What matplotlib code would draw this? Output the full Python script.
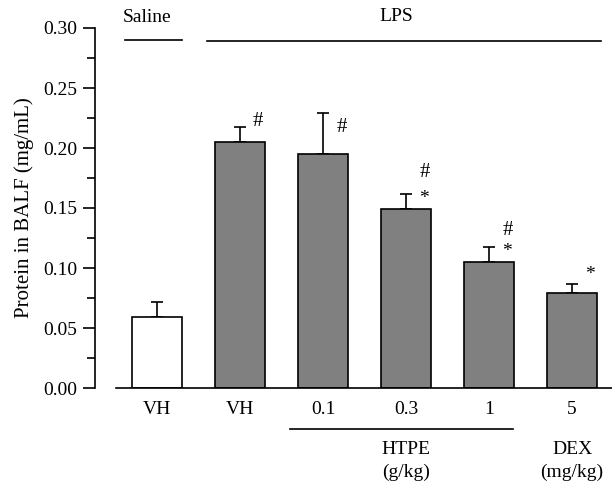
import matplotlib.pyplot as plt
import numpy as np

plt.rcParams['font.family'] = ['Liberation Serif', 'DejaVu Serif']

# bar data
groups = ["VH", "VH", "0.1", "0.3", "1", "5"]
protein = [0.059, 0.205, 0.195, 0.149, 0.105, 0.079]
sem = [0.013, 0.0125, 0.034, 0.0125, 0.0125, 0.0075]
colors = ["white", "#808080", "#808080", "#808080", "#808080", "#808080"]

# significance marks: (bar index, symbol, height)
marks = [(1, "#", 0.2225), (2, "#", 0.217), (3, "#", 0.180), (3, "*", 0.158),
         (4, "#", 0.131), (4, "*", 0.114), (5, "*", 0.095)]

fs = 14

fig = plt.figure(figsize=(6.12, 4.86), dpi=100)
ax = fig.add_axes([95 / 612, 98 / 486, 517 / 612, 360 / 486])

x = np.arange(len(groups))
ax.bar(x, protein, width=0.6, color=colors, edgecolor="black", linewidth=1.2, zorder=2)
ax.errorbar(x, protein, yerr=[np.zeros(len(sem)), sem], fmt="none", ecolor="black",
            elinewidth=1.2, capsize=4.5, capthick=1.2, zorder=1)

for i, sym, h in marks:
    ax.text(x[i] + 0.22, h, sym, ha="center", va="center", fontsize=15 if sym == "#" else 14)

ax.set_xlim(-0.747, 5.48)
ax.set_ylim(0, 0.30)
ax.set_yticks(np.arange(0, 0.31, 0.05))
ax.set_yticklabels(["%.2f" % v for v in np.arange(0, 0.31, 0.05)])
ax.set_yticks(np.arange(0.025, 0.30, 0.05), minor=True)
ax.tick_params(axis="y", which="major", direction="out", length=9, width=1.2, labelsize=fs, pad=4)
ax.tick_params(axis="y", which="minor", direction="out", length=6, width=1.2)
ax.set_xticks(x)
ax.set_xticklabels(groups, fontsize=fs)
ax.tick_params(axis="x", length=0, pad=9)

for s in ["top", "right"]:
    ax.spines[s].set_visible(False)
ax.spines["left"].set_linewidth(1.2)
ax.spines["bottom"].set_linewidth(1.2)
ax.spines["bottom"].set_bounds(-0.5, 5.48)

ax.set_ylabel("Protein in BALF (mg/mL)", fontsize=15, labelpad=6)

# group lines and labels
ax.plot([-0.38, 0.3], [0.29, 0.29], color="black", lw=1.2, clip_on=False)
ax.text(-0.12, 0.309, "Saline", ha="center", va="center", fontsize=fs)
ax.plot([0.6, 5.35], [0.289, 0.289], color="black", lw=1.2, clip_on=False)
ax.text(2.88, 0.310, "LPS", ha="center", va="center", fontsize=fs)

trans = ax.get_xaxis_transform()
ax.plot([1.6, 4.29], [-0.114, -0.114], color="black", lw=1.2, clip_on=False, transform=trans)
ax.text(3.0, -0.172, "HTPE", ha="center", va="center", fontsize=fs, transform=trans)
ax.text(3.0, -0.233, "(g/kg)", ha="center", va="center", fontsize=fs, transform=trans)
ax.text(5.0, -0.172, "DEX", ha="center", va="center", fontsize=fs, transform=trans)
ax.text(5.0, -0.233, "(mg/kg)", ha="center", va="center", fontsize=fs, transform=trans)

fig.savefig("out.png", dpi=100)
